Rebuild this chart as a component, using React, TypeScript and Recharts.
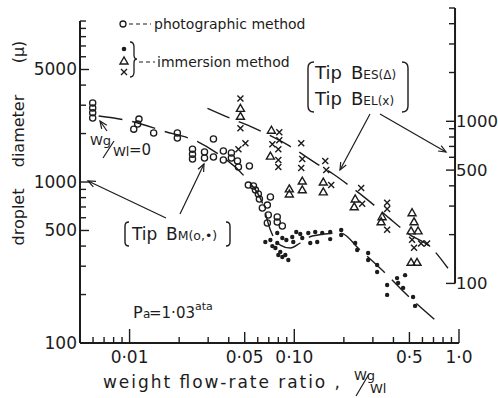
import React from 'react'
import { ScatterChart, Scatter, XAxis, YAxis, ReferenceLine } from 'recharts'

const FONT = '"DejaVu Sans", sans-serif'
const INK = '#1c1c1c'

// photographic method, tip BM (open circles) - left axis
const photoX = [0.00597, 0.00597, 0.00597, 0.00597, 0.0114, 0.0112, 0.0106, 0.014, 0.0195, 0.0195, 0.0241, 0.0241, 0.0241, 0.0323, 0.0285, 0.0285, 0.0323, 0.0371, 0.0371, 0.0415, 0.0415, 0.0452, 0.0458, 0.0534, 0.0526, 0.0565, 0.0581, 0.0605, 0.0614, 0.0716, 0.0686, 0.064, 0.0695, 0.0788, 0.0788, 0.0686, 0.0846]
const photoY = [3100, 2880, 2690, 2500, 2460, 2290, 2130, 2015, 2015, 1875, 1600, 1490, 1390, 1850, 1535, 1410, 1430, 1560, 1370, 1515, 1410, 1350, 1240, 1257, 957, 944, 891, 842, 784, 807, 719, 690, 624, 607, 565, 556, 533]

// immersion method, tip BM (dots) - left axis
const bmX = [0.0667, 0.0716, 0.0736, 0.0768, 0.0788, 0.08, 0.0822, 0.0846, 0.0882, 0.092, 0.0788, 0.0846, 0.0895, 0.0972, 0.0986, 0.1028, 0.1087, 0.1118, 0.1216, 0.125, 0.134, 0.1378, 0.1478, 0.1652, 0.1652, 0.1927, 0.1927, 0.2343, 0.2409, 0.2808, 0.2808, 0.3184, 0.3184, 0.3662, 0.3662, 0.4207, 0.4268, 0.4577, 0.4707, 0.5263, 0.5412]
const bmY = [424, 436, 400, 389, 418, 352, 368, 342, 352, 328, 482, 449, 436, 455, 424, 489, 475, 449, 482, 418, 489, 424, 482, 489, 442, 503, 469, 418, 378, 362, 328, 305, 276, 229, 199, 253, 236, 220, 264, 193, 170]

// immersion method, tip BES (triangles) - right axis
const besX = [0.0471, 0.0471, 0.0726, 0.0716, 0.0933, 0.0933, 0.1118, 0.1118, 0.15, 0.15, 0.2343, 0.2311, 0.3412, 0.3365, 0.5188, 0.5333, 0.5117, 0.5643, 0.5117, 0.556]
const besY = [1202, 1074, 881, 610, 383, 356, 428, 378, 422, 367, 332, 297, 258, 240, 273, 240, 211, 211, 135, 135]

// immersion method, tip BEL (crosses) - right axis
const belX = [0.0471, 0.0471, 0.0505, 0.0458, 0.0811, 0.0811, 0.0736, 0.08, 0.08, 0.08, 0.1102, 0.1118, 0.1102, 0.1542, 0.1563, 0.1675, 0.2547, 0.2583, 0.3662, 0.3662, 0.3662, 0.5188, 0.5333, 0.5888, 0.6398]
const belY = [1384, 906, 733, 673, 857, 765, 723, 673, 577, 523, 733, 585, 515, 569, 500, 405, 388, 310, 314, 288, 214, 186, 166, 176, 176]

// dashed fit curves
const fitBmX = [0.00649, 0.0101, 0.0161, 0.0262, 0.0332, 0.0519, 0.064, 0.0716, 0.0822, 0.0946, 0.1087, 0.1285, 0.19, 0.251, 0.341, 0.491, 0.716]
const fitBmY = [2570, 2390, 2070, 1770, 1535, 1028, 741, 503, 406, 389, 418, 462, 482, 378, 284, 196, 139]
const fitBeX = [0.0297, 0.0409, 0.0541, 0.0686, 0.0895, 0.1378, 0.1722, 0.2249, 0.2692, 0.3184, 0.3819, 0.4909, 0.6855, 0.857]
const fitBeY = [1202, 1043, 931, 832, 723, 545, 473, 388, 337, 293, 250, 203, 164, 124]

// axes
const xTicks = [0.006, 0.007, 0.008, 0.009, 0.01, 0.02, 0.03, 0.04, 0.05, 0.06, 0.07, 0.08, 0.09, 0.1, 0.2, 0.3, 0.4, 0.5, 0.6, 0.7, 0.8, 0.9, 1.0]
const xLabels: [number, string][] = [[0.01, '0·01'], [0.05, '0·05'], [0.1, '0·10'], [0.5, '0·5'], [1.0, '1·0']]
const leftTicks = [100, 200, 300, 400, 500, 600, 700, 800, 900, 1000, 2000, 3000, 4000, 5000, 6000, 7000, 8000, 9000, 10000]
const leftLabels = [100, 500, 1000, 5000]
const rightTicks = [100, 200, 300, 400, 500, 600, 700, 800, 900, 1000, 2000, 3000, 4000, 5000]
const rightLabels = [100, 500, 1000]
// the right-hand scale sits a little inside the 1.0 end of the x axis
const rightAxisAt = 0.946
const RIGHT_SHIFT = -4

const zip = (xs: number[], ys: number[]) => xs.map((x, i) => ({ x, y: ys[i] }))

const OpenCircle = (p: any) => <circle cx={p.cx} cy={p.cy} r={3.1} fill="none" stroke={INK} strokeWidth={1.3} />
const Dot = (p: any) => <circle cx={p.cx} cy={p.cy} r={2.2} fill={INK} />
const Tri = (p: any) => (
  <path d={`M${p.cx},${p.cy - 4} L${p.cx - 4},${p.cy + 3} L${p.cx + 4},${p.cy + 3} Z`} fill="none" stroke={INK} strokeWidth={1.4} />
)
const Cross = (p: any) => (
  <path d={`M${p.cx - 3},${p.cy - 3} L${p.cx + 3},${p.cy + 3} M${p.cx + 3},${p.cy - 3} L${p.cx - 3},${p.cy + 3}`} stroke={INK} strokeWidth={1.4} />
)
const NoPoint = () => <g />

const XTick = (p: any) => {
  const v = p.payload.value
  const lab = xLabels.find((l) => Math.abs(l[0] - v) < 1e-9)
  const major = lab && (v === 0.01 || v === 0.1 || v === 1.0)
  const len = major ? 14 : lab ? 11 : 6
  return (
    <g>
      <line x1={p.x} y1={p.y} x2={p.x} y2={p.y - len} stroke={INK} strokeWidth={1.4} />
      {lab && (
        <text x={p.x} y={p.y + 20} textAnchor="middle" fontFamily={FONT} fontSize={17} fill={INK}>
          {lab[1]}
        </text>
      )}
    </g>
  )
}

const LeftTick = (p: any) => {
  const v = p.payload.value
  const lab = leftLabels.includes(v)
  return (
    <g>
      <line x1={p.x} y1={p.y} x2={p.x + (lab ? 9 : 6)} y2={p.y} stroke={INK} strokeWidth={1.4} />
      {lab && (
        <text x={p.x - 3} y={p.y + 6} textAnchor="end" fontFamily={FONT} fontSize={17} fill={INK}>
          {v}
        </text>
      )}
    </g>
  )
}

const RightTick = (p: any) => {
  const v = p.payload.value
  const lab = rightLabels.includes(v)
  const x = p.x + RIGHT_SHIFT
  return (
    <g>
      <line x1={x} y1={p.y} x2={x - (lab ? 9 : 6)} y2={p.y} stroke={INK} strokeWidth={1.4} />
      {lab && (
        <text x={x + 1} y={p.y + 6} textAnchor="start" fontFamily={FONT} fontSize={16.5} fill={INK}>
          {v}
        </text>
      )}
    </g>
  )
}

function Arrow({ x1, y1, x2, y2 }: { x1: number; y1: number; x2: number; y2: number }) {
  const a = Math.atan2(y2 - y1, x2 - x1)
  const h = 8
  const p1 = [x2 - h * Math.cos(a - 0.4), y2 - h * Math.sin(a - 0.4)]
  const p2 = [x2 - h * Math.cos(a + 0.4), y2 - h * Math.sin(a + 0.4)]
  return (
    <g stroke={INK} strokeWidth={1.2} fill="none">
      <line x1={x1} y1={y1} x2={x2} y2={y2} />
      <path d={`M${p1[0]},${p1[1]} L${x2},${y2} L${p2[0]},${p2[1]}`} />
    </g>
  )
}

function Notes() {
  const t = { fontFamily: FONT, fill: INK }
  return (
    <svg width={498} height={398} style={{ position: 'absolute', left: 0, top: 0, pointerEvents: 'none' }}>
      {/* legend */}
      <circle cx={123} cy={24} r={3} fill="none" stroke={INK} strokeWidth={1.3} />
      <line x1={129} y1={24} x2={151} y2={24} stroke={INK} strokeWidth={1.2} strokeDasharray="4 3" />
      <text x={154} y={29} fontSize={14} {...t}>photographic method</text>
      <circle cx={124} cy={49} r={2.3} fill={INK} />
      <Tri cx={124} cy={61} />
      <Cross cx={124} cy={72} />
      <path d="M130,42 Q134,42 134,47 L134,55 Q134,59 137,59 Q134,59 134,63 L134,72 Q134,77 130,77" fill="none" stroke={INK} strokeWidth={1.3} />
      <line x1={139} y1={62} x2={155} y2={62} stroke={INK} strokeWidth={1.2} strokeDasharray="4 3" />
      <text x={157} y={67} fontSize={14} {...t}>immersion method</text>

      {/* Tip BES / BEL */}
      <path d="M314,62 Q308,62 308,68 L308,106 Q308,112 314,112" fill="none" stroke={INK} strokeWidth={1.4} />
      <path d="M402,62 Q408,62 408,68 L408,106 Q408,112 402,112" fill="none" stroke={INK} strokeWidth={1.4} />
      <text x={315} y={79} fontSize={18} {...t}>Tip</text>
      <text x={351} y={79} fontSize={18} {...t}>B<tspan fontSize={12}>ES(Δ)</tspan></text>
      <text x={315} y={105} fontSize={18} {...t}>Tip</text>
      <text x={351} y={105} fontSize={18} {...t}>B<tspan fontSize={12}>EL(x)</tspan></text>
      <Arrow x1={370} y1={114} x2={340} y2={170} />
      <Arrow x1={380} y1={114} x2={446} y2={152} />

      {/* Tip BM */}
      <path d="M129,222 Q125,222 125,226 L125,242 Q125,246 129,246" fill="none" stroke={INK} strokeWidth={1.4} />
      <path d="M226,222 Q230,222 230,226 L230,242 Q230,246 226,246" fill="none" stroke={INK} strokeWidth={1.4} />
      <text x={132} y={240} fontSize={17} {...t}>Tip</text>
      <text x={166} y={240} fontSize={17} {...t}>B<tspan fontSize={12.5}>M(o,•)</tspan></text>
      <Arrow x1={166} y1={218} x2={88} y2={181} />
      <Arrow x1={180} y1={214} x2={204} y2={164} />

      {/* Wg/Wl = 0 */}
      <text x={90} y={145} fontSize={13} {...t}>Wg</text>
      <line x1={103} y1={158} x2={114} y2={141} stroke={INK} strokeWidth={1.2} />
      <text x={113} y={156} fontSize={13} {...t}>Wl</text>
      <text x={129} y={155} fontSize={15} {...t}>=0</text>
      <Arrow x1={107} y1={131} x2={100} y2={121} />

      {/* Pa */}
      <text x={133} y={318} fontSize={16} {...t}>P</text>
      <text x={143} y={318} fontSize={12} {...t}>a</text>
      <text x={149} y={318} fontSize={15} {...t}>=1·03</text>
      <text x={195} y={310} fontSize={11} {...t}>ata</text>

      {/* axis titles */}
      <text x={103} y={388} fontSize={17} textLength={237} lengthAdjust="spacing" {...t}>weight flow-rate ratio ,</text>
      <text x={354} y={380} fontSize={13} {...t}>Wg</text>
      <line x1={356} y1={396} x2={369} y2={374} stroke={INK} strokeWidth={1.2} />
      <text x={370} y={393} fontSize={13} {...t}>Wl</text>
      <text x={24} y={217} fontSize={16} textAnchor="middle" transform="rotate(-90, 24, 217)" {...t}>droplet</text>
      <text x={24} y={131} fontSize={16} textAnchor="middle" transform="rotate(-90, 24, 131)" {...t}>diameter</text>
      <text x={24} y={52} fontSize={16} textAnchor="middle" transform="rotate(-90, 24, 52)" {...t}>(μ)</text>
    </svg>
  )
}

export default function App() {
  return (
    <div style={{ position: 'absolute', left: 0, top: 0, width: 498, height: 398, background: '#fff' }}>
      <ScatterChart width={498} height={398} margin={{ top: 8, right: 0, bottom: 0, left: 0 }}>
        <XAxis
          type="number"
          dataKey="x"
          scale="log"
          domain={[0.005, 1]}
          allowDataOverflow
          ticks={xTicks}
          interval={0}
          height={55}
          tickSize={0}
          tickMargin={0}
          tickLine={false}
          tick={<XTick />}
          axisLine={{ stroke: INK, strokeWidth: 2 }}
        />
        <YAxis
          yAxisId="left"
          type="number"
          dataKey="y"
          scale="log"
          domain={[100, 12050]}
          allowDataOverflow
          ticks={leftTicks}
          interval={0}
          width={80}
          tickSize={0}
          tickMargin={0}
          tickLine={false}
          tick={<LeftTick />}
          axisLine={false}
        />
        <YAxis
          yAxisId="right"
          orientation="right"
          type="number"
          dataKey="y"
          scale="log"
          domain={[42.9, 5000]}
          allowDataOverflow
          ticks={rightTicks}
          interval={0}
          width={39}
          tickSize={0}
          tickMargin={0}
          tickLine={false}
          tick={<RightTick />}
          axisLine={false}
        />
        <ReferenceLine yAxisId="left" segment={[{ x: 0.005, y: 100 }, { x: 0.005, y: 10000 }]} stroke={INK} strokeWidth={2} ifOverflow="visible" />
        <ReferenceLine yAxisId="right" segment={[{ x: rightAxisAt, y: 100 }, { x: rightAxisAt, y: 5000 }]} stroke={INK} strokeWidth={2} ifOverflow="visible" />

        <Scatter yAxisId="left" data={zip(fitBmX, fitBmY)} shape={NoPoint} line={{ stroke: INK, strokeWidth: 1.4, strokeDasharray: '24 10' }} lineJointType="monotoneX" isAnimationActive={false} />
        <Scatter yAxisId="right" data={zip(fitBeX, fitBeY)} shape={NoPoint} line={{ stroke: INK, strokeWidth: 1.4, strokeDasharray: '24 10' }} lineJointType="monotoneX" isAnimationActive={false} />
        <Scatter yAxisId="left" data={zip(photoX, photoY)} shape={OpenCircle} isAnimationActive={false} />
        <Scatter yAxisId="left" data={zip(bmX, bmY)} shape={Dot} isAnimationActive={false} />
        <Scatter yAxisId="right" data={zip(besX, besY)} shape={Tri} isAnimationActive={false} />
        <Scatter yAxisId="right" data={zip(belX, belY)} shape={Cross} isAnimationActive={false} />
      </ScatterChart>
      <Notes />
    </div>
  )
}
